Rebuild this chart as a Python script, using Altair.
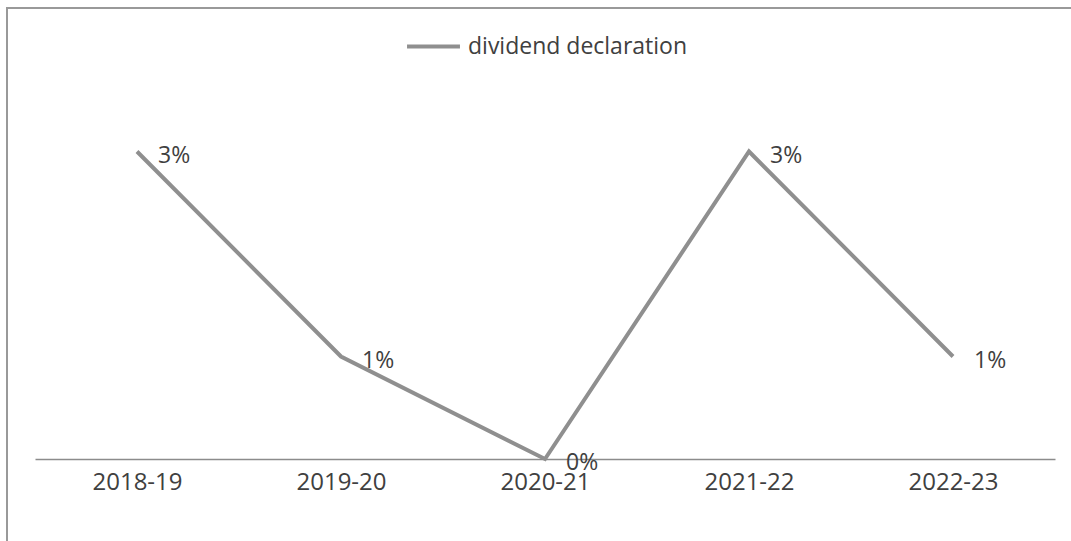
import altair as alt
import pandas as pd

years = ["2018-19", "2019-20", "2020-21", "2021-22", "2022-23"]
dividend = [0.03, 0.01, 0.0, 0.03, 0.01]
series_name = "dividend declaration"

df = pd.DataFrame({"year": years, "value": dividend, "series": [series_name] * len(years)})

FONT = "Open Sans"
LINE = "#8f8f8f"
TEXT = "#404040"

x = alt.X("year:N", sort=years, title=None,
          scale=alt.Scale(type="point", padding=0.5),
          axis=alt.Axis(labelAngle=0, labelFont=FONT, labelFontSize=24, labelColor=TEXT,
                        labelPadding=11, ticks=False, domainColor="#8c8c8c", domainWidth=1.5,
                        grid=False))
y = alt.Y("value:Q", title=None, scale=alt.Scale(domain=[0, 0.04], nice=False, zero=True),
          axis=None)

line = alt.Chart(df).mark_line(strokeWidth=4).encode(
    x=x, y=y,
    color=alt.Color("series:N", title=None,
                    scale=alt.Scale(range=[LINE]),
                    legend=alt.Legend(orient="none", legendX=370, legendY=-31,
                                      symbolType="stroke", symbolSize=2800,
                                      symbolStrokeWidth=4, labelFont=FONT,
                                      labelFontSize=23, labelColor=TEXT,
                                      labelOffset=6, labelLimit=400))
)

labels = alt.Chart(df).mark_text(align="left", baseline="middle", dx=21, dy=4,
                                 font=FONT, fontSize=23, color=TEXT).encode(
    x=alt.X("year:N", sort=years), y="value:Q",
    text=alt.Text("value:Q", format=".0%")
)

frame = alt.Chart(df).mark_rect(fill=None, stroke="#999999", strokeWidth=2, clip=False).encode(
    x=alt.value(-28), x2=alt.value(1300), y=alt.value(-41), y2=alt.value(700)
)

chart = alt.layer(line, labels, frame).properties(
    width=1020, height=410,
    padding={"left": 35, "top": 49, "right": 16, "bottom": 82},
    autosize=alt.AutoSizeParams(type="none"),
    background="white"
).configure_view(stroke=None)

chart.save("out.html", embed_options={"renderer": "svg", "actions": False})
